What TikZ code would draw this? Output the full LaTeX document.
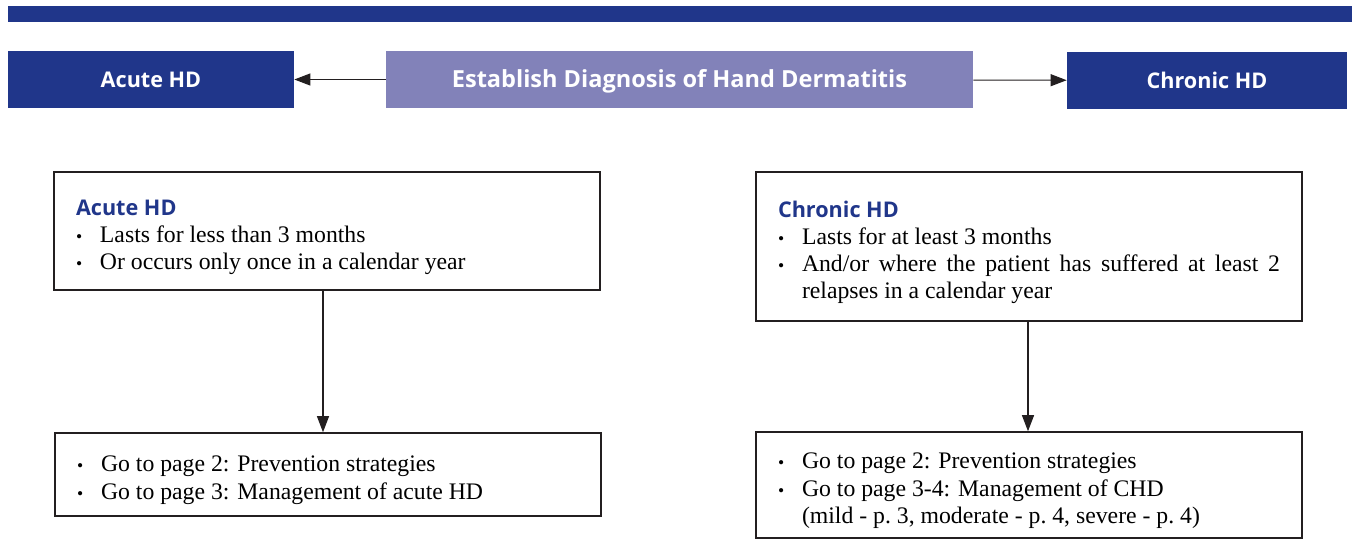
\documentclass[tikz,border=0pt]{standalone}
\usepackage{fontspec}
\setmainfont{Liberation Serif}
\newfontfamily\headfont{Open Sans}
\usepackage{tikz}
\usetikzlibrary{arrows.meta, positioning}
\definecolor{hdblue}{RGB}{32,54,138}
\definecolor{hdlilac}{RGB}{130,130,185}
\definecolor{hdline}{RGB}{35,31,32}
\newcommand{\bul}[1]{\par\noindent
  \makebox[0.48cm][l]{\fontsize{10}{12}\selectfont\textbullet}%
  \parbox[t]{9.56cm}{#1}}
\newcommand{\boxhead}[1]{\noindent\rule{0pt}{16pt}{\headfont\bfseries\fontsize{12.3}{15.4}\selectfont\color{hdblue}#1}}
\tikzset{
  hdrbox/.style={rectangle, fill=hdblue, text=white, inner sep=0pt,
    minimum height=1.14cm, text height=11pt, text depth=2.2pt,
    font=\headfont\bfseries\fontsize{12.3}{15}\selectfont},
  infobox/.style={rectangle, draw=hdline, line width=0.9pt,
    text width=10.04cm, inner xsep=0.44cm, align=justify,
    font=\fontsize{13.5}{15.4}\selectfont},
  arrow/.style={-{Triangle[length=0.32cm, width=0.24cm]}, line width=0.6pt, color=hdline}
}
\begin{document}
\begin{tikzpicture}
  \useasboundingbox (0,0) rectangle (27.04,-10.8);
  % top band
  \fill[hdblue] (0.16,-0.12) rectangle (27.04,-0.44);

  % header row
  \node[hdrbox, minimum width=5.72cm] (acutehdr) at (3.02,-1.59) {Acute HD};
  \node[hdrbox, fill=hdlilac, minimum width=11.74cm, text height=11.8pt,
    font=\headfont\bfseries\fontsize{13.4}{15}\selectfont] (diag) at (13.59,-1.59) {Establish Diagnosis of Hand Dermatitis};
  \node[hdrbox, minimum width=5.6cm] (chronhdr) at (24.14,-1.61) {Chronic HD};

  % definitions
  \node[infobox, minimum height=2.36cm] (acutedef) at (6.54,-4.62) {\boxhead{Acute HD}
    \bul{Lasts for less than 3 months}
    \bul{Or occurs only once in a calendar year}};
  \node[infobox, minimum height=2.98cm] (chrondef) at (20.58,-4.93) {\boxhead{Chronic HD}
    \bul{Lasts for at least 3 months}
    \bul{And/or where the patient has suffered at least 2\linebreak relapses in a calendar year}};

  % next steps
  \node[infobox, minimum height=1.66cm] (acutenext) at (6.56,-9.49) {\bul{Go to page 2: Prevention strategies}
    \bul{Go to page 3: Management of acute HD}};
  \node[infobox, minimum height=2.12cm] (chronnext) at (20.58,-9.70) {\bul{Go to page 2: Prevention strategies}
    \bul{Go to page 3-4: Management of CHD\\(mild - p.~3, moderate - p.~4, severe - p.~4)}};

  % connections
  \draw[arrow] (diag) -- (acutehdr);
  \draw[arrow] (diag) -- (chronhdr);
  \draw[arrow] (acutedef.south -| 6.46,0) -- (acutenext.north -| 6.46,0);
  \draw[arrow] (chrondef.south -| 20.56,0) -- (chronnext.north -| 20.56,0);
\end{tikzpicture}
\end{document}
